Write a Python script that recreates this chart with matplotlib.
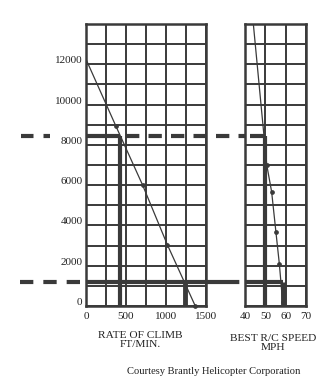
import matplotlib
matplotlib.use("Agg")
import matplotlib.pyplot as plt
import matplotlib.transforms as mtransforms
import numpy as np

# ---- data ----
roc_alt = [12250, 8920, 6000, 3050, 0]          # ft
roc_val = [0, 375, 708, 1016, 1366]            # ft/min
spd_alt = [14000, 7000, 5670, 3680, 2080, 200]  # ft
spd_val = [44.1, 50.7, 53.1, 55.2, 56.9, 58.5]  # mph

ex_hi_alt, ex_hi_roc, ex_hi_spd = 8450, 430, 50.0
ex_lo_alt, ex_lo_roc, ex_lo_spd = 1180, 1240, 58.5

y_ticks = [0, 2000, 4000, 6000, 8000, 10000, 12000]
x1_ticks = [0, 500, 1000, 1500]
x2_ticks = [40, 50, 60, 70]
x1_title = "RATE OF CLIMB\nFT/MIN."
x2_title = "BEST R/C SPEED\nMPH"
credit = "Courtesy Brantly Helicopter Corporation"

INK = "#3a3a3a"
TXT = "#222222"
W, H = 332, 385
fig = plt.figure(figsize=(W / 100, H / 100), dpi=100)
plt.rcParams['font.family'] = ['Liberation Serif', 'DejaVu Serif']

def px_axes(x0, x1, y0, y1):
    return fig.add_axes([x0 / W, 1 - y1 / H, (x1 - x0) / W, (y1 - y0) / H])

ax1 = px_axes(86, 206, 24, 306)
ax2 = px_axes(245, 306, 24, 306)

for ax, xlim, xstep in ((ax1, (0, 1500), 250), (ax2, (40, 70), 10)):
    ax.set_xlim(*xlim)
    ax.set_ylim(0, 14000)
    for xv in np.arange(xlim[0], xlim[1] + 1, xstep):
        ax.axvline(xv, color=INK, lw=1.4, zorder=1)
    for yv in np.arange(0, 14001, 1000):
        ax.axhline(yv, color=INK, lw=1.4, zorder=1)
    for s in ax.spines.values():
        s.set_color(INK)
        s.set_linewidth(1.8)
    ax.tick_params(length=0, colors=TXT, labelsize=8)

ax1.set_xticks(x1_ticks)
ax1.set_yticks(y_ticks)
ax1.tick_params(axis='y', pad=2.5)
ax1.tick_params(axis='x', pad=4)
ax2.set_xticks(x2_ticks)
ax2.set_yticks([])
ax2.tick_params(axis='x', pad=4)
off = mtransforms.ScaledTranslation(0, 0.045, fig.dpi_scale_trans)
for lab in ax1.get_yticklabels():
    lab.set_transform(lab.get_transform() + off)

# curves
ax1.plot(roc_val, roc_alt, color=INK, lw=0.9, zorder=3)
ax1.plot(roc_val[1:], roc_alt[1:], 'o', color=INK, ms=2.4, zorder=3, clip_on=False)
ax2.plot(spd_val, spd_alt, color=INK, lw=0.9, zorder=3)
ax2.plot(spd_val[1:], spd_alt[1:], 'o', color=INK, ms=2.4, zorder=3)

# example lines (thick)
TH = 3.0
ax1.plot([ex_hi_roc, ex_hi_roc], [0, ex_hi_alt], color=INK, lw=TH, zorder=4, solid_capstyle='butt')
ax1.plot([0, ex_hi_roc], [ex_hi_alt, ex_hi_alt], color=INK, lw=TH, zorder=4, solid_capstyle='butt')
ax1.plot([ex_lo_roc, ex_lo_roc], [0, ex_lo_alt], color=INK, lw=TH + 0.5, zorder=4, solid_capstyle='butt')
ax1.plot([0, 1500], [ex_lo_alt, ex_lo_alt], color=INK, lw=TH, zorder=4, solid_capstyle='butt')
ax2.plot([ex_hi_spd, ex_hi_spd], [0, ex_hi_alt], color=INK, lw=TH, zorder=4, solid_capstyle='butt')
ax2.plot([42.5, ex_hi_spd], [ex_hi_alt, ex_hi_alt], color=INK, lw=TH, zorder=4, solid_capstyle='butt')
ax2.plot([ex_lo_spd, ex_lo_spd], [0, ex_lo_alt], color=INK, lw=TH + 0.5, zorder=4, solid_capstyle='butt')
ax2.plot([40, ex_lo_spd], [ex_lo_alt, ex_lo_alt], color=INK, lw=TH, zorder=4, solid_capstyle='butt')

# dashed extensions (x in figure pixels, y in data)
tr = mtransforms.blended_transform_factory(fig.transFigure, ax1.transData)
def dashed(x0, x1, y, dashes):
    fig.add_artist(plt.Line2D([x0 / W, x1 / W], [y, y], transform=tr, color=INK,
                              lw=TH, dashes=dashes, solid_capstyle='butt',
                              dash_capstyle='butt', zorder=5))
dashed(21, 50, ex_hi_alt, (3.0, 2.4))
dashed(126, 245, ex_hi_alt, (3.2, 2.2))
dashed(20, 84, ex_lo_alt, (3.2, 2.4))
dashed(206, 245, ex_lo_alt, (8, 2))

# titles
fig.text(140 / W, 1 - 340 / H, x1_title, ha='center', va='center', fontsize=8.2,
         color=TXT, linespacing=0.95)
fig.text(273 / W, 1 - 343 / H, x2_title, ha='center', va='center', fontsize=8.2,
         color=TXT, linespacing=0.95)
fig.text(214 / W, 1 - 372 / H, credit, ha='center', va='center', fontsize=7.6,
         color=TXT)

fig.savefig("out.png", dpi=100)
